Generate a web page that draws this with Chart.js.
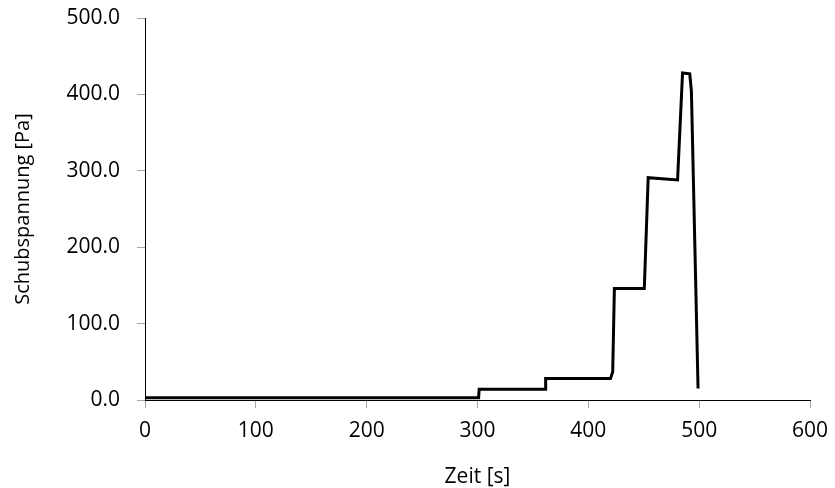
<!DOCTYPE html>
<html>
<head>
<meta charset="utf-8">
<script src="https://cdn.jsdelivr.net/npm/chart.js@4/dist/chart.umd.min.js"></script>
<style>
  html, body { margin: 0; padding: 0; background: #fff; }
  #wrap { width: 835px; height: 488px; position: relative; }
</style>
</head>
<body>
<div id="wrap"><canvas id="c" width="835" height="488"></canvas></div>
<script>
// Zeit [s]
const timeValues   = [0, 301, 301.5, 361, 361.5, 420, 422, 423.5, 450.5, 454, 480.5, 485, 491.5, 493, 499];
// Schubspannung [Pa]
const stressValues = [3, 3, 14, 14, 28, 28, 37, 146, 146, 291, 288, 428, 427, 404, 15];
const xTicks = [0, 100, 200, 300, 400, 500, 600];
const yTicks = [0, 100, 200, 300, 400, 500];

const points = timeValues.map((t, i) => ({ x: t, y: stressValues[i] }));
const FONT = "'Open Sans', 'Liberation Sans', sans-serif";

new Chart(document.getElementById('c'), {
  type: 'scatter',
  data: {
    datasets: [{
      data: points,
      showLine: true,
      borderColor: '#000',
      borderWidth: 3,
      pointRadius: 0,
      tension: 0,
      fill: false
    }]
  },
  options: {
    responsive: false,
    animation: false,
    devicePixelRatio: 1,
    layout: { padding: { left: 0, right: 25, top: 18, bottom: 0 } },
    plugins: { legend: { display: false }, tooltip: { enabled: false } },
    scales: {
      x: {
        type: 'linear',
        min: xTicks[0],
        max: xTicks[xTicks.length - 1],
        afterBuildTicks: s => { s.ticks = xTicks.map(v => ({ value: v })); },
        afterFit: s => { s.height = 88; s.paddingLeft = 0; s.paddingRight = 0; s.paddingTop = 0; s.paddingBottom = 0; },
        ticks: { color: '#000', font: { family: FONT, size: 21 }, padding: 10, maxRotation: 0,
                 callback: v => String(v) },
        grid: { drawOnChartArea: false, drawTicks: true, tickLength: 8, color: '#a6a6a6' },
        border: { display: true, color: '#000', width: 1 },
        title: { display: true, text: 'Zeit [s]', color: '#000', font: { family: FONT, size: 21 },
                 padding: { top: 0, bottom: -2 } }
      },
      y: {
        type: 'linear',
        min: yTicks[0],
        max: yTicks[yTicks.length - 1],
        afterBuildTicks: s => { s.ticks = yTicks.map(v => ({ value: v })); },
        afterFit: s => { s.width = 145; s.paddingLeft = 0; s.paddingRight = 0; s.paddingTop = 0; s.paddingBottom = 0; },
        ticks: { color: '#000', font: { family: FONT, size: 21 }, padding: 17,
                 callback: v => Number(v).toFixed(1) },
        grid: { drawOnChartArea: false, drawTicks: true, tickLength: 8, color: '#a6a6a6' },
        border: { display: true, color: '#000', width: 1 },
        title: { display: true, text: 'Schubspannung [Pa]', color: '#000', font: { family: FONT, size: 20 },
                 padding: { top: 11, bottom: 0 } }
      }
    }
  }
});
</script>
</body>
</html>
